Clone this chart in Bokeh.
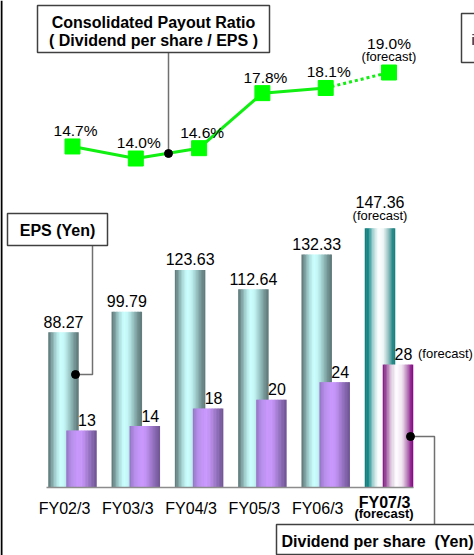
import numpy as np
from bokeh.plotting import figure
from bokeh.models import Range1d, ColumnDataSource
from bokeh.core.properties import value
from bokeh.embed import file_html
from bokeh.resources import INLINE

# ---------------- data ----------------
categories = ["FY02/3", "FY03/3", "FY04/3", "FY05/3", "FY06/3", "FY07/3"]
eps = [88.27, 99.79, 123.63, 112.64, 132.33, 147.36]
dividend = [13, 14, 18, 20, 24, 28]
payout = [14.7, 14.0, 14.6, 17.8, 18.1, 19.0]
is_forecast = [False, False, False, False, False, True]

# ---------------- styles ----------------
FONT = "Liberation Sans"
W, H = 474, 555
STEP = 63.3            # px per category
X0 = 72                # px of first group centre
BASE = 487             # px of baseline
EPS_PX, DIV_PX, PAY_PX = 1.76, 4.39, 17.2
BW = 30 / STEP         # bar width in data units
OFF = 9 / STEP         # bar offset from group centre
NSTRIP = 20
DY = -5                # text baseline correction

EPS_STOPS = [(0.0, "#5b7575"), (0.1, "#779797"), (0.25, "#a8d8d8"), (0.4, "#ccffff"),
             (0.55, "#c2f4f4"), (0.72, "#98c4c4"), (0.88, "#729292"), (1.0, "#5e7878")]
EPS_F_STOPS = [(0.0, "#127a7a"), (0.12, "#1a8a8a"), (0.28, "#a8d4d4"), (0.45, "#ffffff"),
               (0.62, "#eef6f6"), (0.8, "#8cbcbc"), (0.92, "#2a8a8a"), (1.0, "#127a7a")]
DIV_STOPS = [(0.0, "#9474c4"), (0.18, "#b890ec"), (0.4, "#cc99ff"), (0.55, "#c292f4"),
             (0.75, "#9a76c6"), (1.0, "#6f5494")]
DIV_F_STOPS = [(0.0, "#801080"), (0.1, "#9a4a9a"), (0.28, "#e2cce2"), (0.45, "#ffffff"),
               (0.65, "#f0e2f0"), (0.84, "#b070b0"), (0.94, "#902090"), (1.0, "#800080")]


def hex2rgb(h):
    return np.array([int(h[i:i + 2], 16) for i in (1, 3, 5)], dtype=float)


def grad(stops, n):
    pos = np.array([s[0] for s in stops])
    cols = np.array([hex2rgb(s[1]) for s in stops])
    out = []
    for k in range(n):
        t = (k + 0.5) / n
        rgb = [np.interp(t, pos, cols[:, c]) for c in range(3)]
        out.append("#%02x%02x%02x" % tuple(int(round(v)) for v in rgb))
    return out


p = figure(width=W, height=H, output_backend="svg", toolbar_location=None,
           x_axis_type=None, y_axis_type=None, min_border=0,
           x_range=Range1d(-X0 / STEP, (W - X0) / STEP),
           y_range=Range1d(-(H - BASE) / EPS_PX, BASE / EPS_PX))
p.outline_line_color = None
p.background_fill_color = "white"
p.border_fill_color = "white"
p.extra_y_ranges = {
    "div": Range1d(-(H - BASE) / DIV_PX, BASE / DIV_PX),
    "pay": Range1d(14 - (H - 158) / PAY_PX, 14 + 158 / PAY_PX),
    "px": Range1d(H, 0),
}
p.extra_x_ranges = {"px": Range1d(0, W)}

xc = np.arange(len(categories), dtype=float)


# ---------------- gradient bars ----------------
def strips(values, offset, stops, fstops):
    xs, tops, cols = [], [], []
    normal = grad(stops, NSTRIP)
    fc = grad(fstops, NSTRIP)
    for i, v in enumerate(values):
        cl = fc if is_forecast[i] else normal
        for k in range(NSTRIP):
            xs.append(xc[i] + offset + (-0.5 + (k + 0.5) / NSTRIP) * BW)
            tops.append(v)
            cols.append(cl[k])
    return ColumnDataSource(dict(x=xs, top=tops, color=cols))


p.vbar(x="x", top="top", bottom=0, width=BW / NSTRIP * 1.35, color="color",
       line_color=None, source=strips(eps, -OFF, EPS_STOPS, EPS_F_STOPS))
p.vbar(x="x", top="top", bottom=0, width=BW / NSTRIP * 1.35, color="color",
       line_color=None, y_range_name="div",
       source=strips(dividend, OFF, DIV_STOPS, DIV_F_STOPS))

# baseline
p.segment(x0=[xc[0] - 26 / STEP], x1=[xc[-1] + 24.5 / STEP], y0=[0], y1=[0],
          line_color="#8c8c8c", line_width=1.5)

n_act = sum(1 for f in is_forecast if not f)
tf = value(FONT)

# EPS labels
p.text(x=list(xc[:n_act] - OFF), y=eps[:n_act], text=["%.2f" % v for v in eps[:n_act]],
       text_font=tf, text_font_size="16px", text_align="center",
       text_baseline="alphabetic", y_offset=-5.5 + DY, text_color="black")
p.text(x=[xc[-1] - OFF], y=[eps[-1]], text=["%.2f" % eps[-1]],
       text_font=tf, text_font_size="16px", text_align="center",
       text_baseline="alphabetic", y_offset=-21 + DY, text_color="black")
p.text(x=[xc[-1] - OFF], y=[eps[-1]], text=["(forecast)"],
       text_font=tf, text_font_size="13px", text_align="center",
       text_baseline="alphabetic", y_offset=-8 + DY, text_color="black")

# dividend labels
p.text(x=list(xc + OFF), y=dividend, text=[str(v) for v in dividend],
       text_font=tf, text_font_size="16px", text_align="center",
       text_baseline="alphabetic", x_offset=5.5, y_offset=-5.5 + DY,
       y_range_name="div", text_color="black")
p.text(x=[xc[-1] + OFF], y=[dividend[-1]], text=["(forecast)"],
       text_font=tf, text_font_size="13px", text_align="left",
       text_baseline="alphabetic", x_offset=20, y_offset=-6.5 + DY,
       y_range_name="div", text_color="black")

# category labels
p.text(x=list(xc[:n_act]), y=[0] * n_act, text=categories[:n_act],
       text_font=tf, text_font_size="16px", text_align="center",
       text_baseline="alphabetic", x_offset=-8, y_offset=26 + DY, text_color="black")
p.text(x=[xc[-1]], y=[0], text=[categories[-1]],
       text_font=tf, text_font_size="16px", text_font_style="bold",
       text_align="center", text_baseline="alphabetic", x_offset=-4.5,
       y_offset=20 + DY, text_color="black")
p.text(x=[xc[-1]], y=[0], text=["(forecast)"],
       text_font=tf, text_font_size="13px", text_font_style="bold",
       text_align="center", text_baseline="alphabetic", x_offset=-5,
       y_offset=30.5 + DY, text_color="black")

# ---------------- payout ratio line ----------------
GREEN = "#00ff00"
p.line(x=list(xc[:n_act]), y=payout[:n_act], y_range_name="pay",
       line_color="#11ee11", line_width=3)
p.line(x=list(xc[n_act - 1:]), y=payout[n_act - 1:], y_range_name="pay",
       line_color="#11ee11", line_width=3, line_dash="3 3")
p.scatter(x=list(xc), y=payout, y_range_name="pay", marker="square", size=15,
          fill_color=GREEN, line_color=GREEN)
p.text(x=list(xc[:n_act]), y=payout[:n_act], text=["%.1f%%" % v for v in payout[:n_act]],
       y_range_name="pay", text_font=tf, text_font_size="15.5px", text_align="center",
       text_baseline="alphabetic", x_offset=3, y_offset=-11 + DY, text_color="black")
p.text(x=[xc[-1]], y=[payout[-1]], text=["%.1f%%" % payout[-1]],
       y_range_name="pay", text_font=tf, text_font_size="15.5px", text_align="center",
       text_baseline="alphabetic", y_offset=-24 + DY, text_color="black")
p.text(x=[xc[-1]], y=[payout[-1]], text=["(forecast)"],
       y_range_name="pay", text_font=tf, text_font_size="13px", text_align="center",
       text_baseline="alphabetic", y_offset=-11.5 + DY, text_color="black")

# ---------------- callout boxes (page-pixel coordinates) ----------------
PX = dict(x_range_name="px", y_range_name="px")
LEAD = "#707070"
BOX = "#404040"

# left border line of the slide
p.segment(x0=[1], y0=[0], x1=[1], y1=[H], line_color="black", line_width=2, **PX)

# payout ratio callout
p.segment(x0=[168], y0=[52], x1=[168], y1=[153], line_color=LEAD, line_width=1.5, **PX)
p.scatter(x=[168], y=[153], size=8, color="black", **PX)
p.quad(left=[37], right=[269], top=[5], bottom=[52], fill_color="white",
       line_color=BOX, line_width=1.5, **PX)
p.text(x=[153, 153], y=[27, 45],
       text=["Consolidated Payout Ratio", "( Dividend per share / EPS )"],
       text_font=tf, text_font_size="16px", text_font_style="bold", y_offset=DY,
       text_align="center", text_baseline="alphabetic", text_color="black", **PX)

# partial box at the top right
p.quad(left=[461], right=[490], top=[13], bottom=[62], fill_color="white",
       line_color=BOX, line_width=1.5, **PX)
p.text(x=[471], y=[44], text=["i"], text_font=tf, text_font_size="14px",
       text_align="left", text_baseline="alphabetic", y_offset=DY,
       text_color="black", **PX)

# EPS callout
p.line(x=[92, 92, 75], y=[245, 374, 374], line_color=LEAD, line_width=1.5, **PX)
p.scatter(x=[75], y=[374], size=8, color="black", **PX)
p.quad(left=[7], right=[107], top=[213], bottom=[245], fill_color="white",
       line_color=BOX, line_width=1.5, **PX)
p.text(x=[57], y=[235], text=["EPS (Yen)"], text_font=tf, text_font_size="16px",
       text_font_style="bold", text_align="center", text_baseline="alphabetic",
       y_offset=DY, text_color="black", **PX)

# Dividend callout
p.line(x=[410, 434, 434], y=[436, 436, 524], line_color=LEAD, line_width=1.5, **PX)
p.scatter(x=[410], y=[436], size=8, color="black", **PX)
p.quad(left=[276], right=[490], top=[524], bottom=[554], fill_color="white",
       line_color=BOX, line_width=1.5, **PX)
p.text(x=[281], y=[546], text=["Dividend per share\u00a0\u00a0(Yen)"], text_font=tf,
       text_font_size="16px", text_font_style="bold", text_align="left",
       text_baseline="alphabetic", y_offset=DY, text_color="black", **PX)

open("out.html", "w").write(file_html(p, INLINE))
